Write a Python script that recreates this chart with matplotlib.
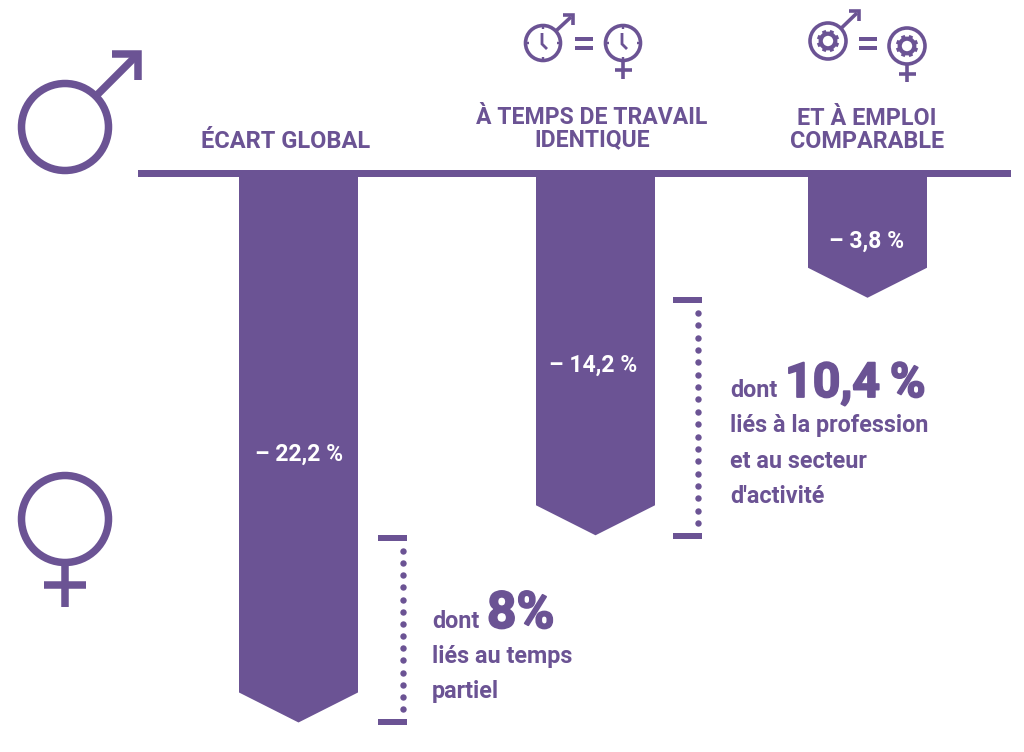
import matplotlib
matplotlib.use('Agg')
import matplotlib.pyplot as plt
import matplotlib.patheffects as pe
import numpy as np
from matplotlib.patches import Circle, Polygon, Rectangle

plt.rcParams['font.family'] = ['Roboto', 'DejaVu Sans']

PURPLE = '#6b5394'

# data
categories = ['ÉCART GLOBAL', 'À TEMPS DE TRAVAIL\nIDENTIQUE', 'ET À EMPLOI\nCOMPARABLE']
values = [22.2, 14.2, 3.8]
# depth of the rectangular part as read on the picture (the last bar is a bit over scale)
drawn_depth = [22.2, 14.2, 4.05]
value_labels = ['– 22,2 %', '– 14,2 %', '– 3,8 %']

bar_centers = [298.5, 595.5, 867.5]
bar_width = 119
tip = 30
px_per_pct = 23.4
zero_y = 173

fig = plt.figure(figsize=(10.24, 7.52), dpi=100)

# bars, y axis in percent
ax = fig.add_axes([0, 0, 1, 1])
ax.set_xlim(0, 1024)
ax.set_ylim((752 - zero_y) / px_per_pct, -zero_y / px_per_pct)
ax.axis('off')

for c, d in zip(bar_centers, drawn_depth):
    t = tip / px_per_pct
    ax.add_patch(Polygon([(c - bar_width / 2, 0), (c + bar_width / 2, 0), (c + bar_width / 2, d),
                          (c, d + t), (c - bar_width / 2, d)], closed=True, fc=PURPLE, ec='none'))

# everything else in pixel coords
dx = fig.add_axes([0, 0, 1, 1])
dx.set_xlim(0, 1024)
dx.set_ylim(752, 0)
dx.axis('off')
dx.patch.set_alpha(0)


def line(xs, ys, lw, cap='butt', join='miter'):
    dx.plot(xs, ys, color=PURPLE, lw=lw * 0.72, solid_capstyle=cap, solid_joinstyle=join)


def ring(x, y, r, lw):
    dx.add_patch(Circle((x, y), r, fc='none', ec=PURPLE, lw=lw * 0.72))


def male(x, y, r, lw, x1, y1, head):
    ring(x, y, r, lw)
    a = np.hypot(x1 - x, y1 - y)
    sx = x + (x1 - x) * r / a
    sy = y + (y1 - y) * r / a
    line([sx, x1 - 2], [sy, y1 + 2], lw)
    line([x1 - head, x1, x1], [y1, y1, y1 + head], lw)


def female(x, y, r, lw, stem, cross_y, cross_w):
    ring(x, y, r, lw)
    line([x, x], [y + r, y + r + stem], lw)
    line([x - cross_w / 2, x + cross_w / 2], [cross_y, cross_y], lw)


def clock(x, y, r):
    for a in np.arange(4) * np.pi / 2:
        line([x + (r - 3.5) * np.cos(a), x + r * np.cos(a)], [y + (r - 3.5) * np.sin(a), y + r * np.sin(a)], 2.4)
    line([x - 1, x - 1, x + 4], [y - 10, y + 1, y + 6], 2.8)


def gear(x, y):
    ring(x, y, 7.3, 4.2)
    for a in np.arange(8) * np.pi / 4 + np.pi / 8:
        line([x + 8 * np.cos(a), x + 11.2 * np.cos(a)], [y + 8 * np.sin(a), y + 11.2 * np.sin(a)], 4)


def equal(x0, x1):
    line([x0, x1], [38.5, 38.5], 4)
    line([x0, x1], [47.5, 47.5], 4)


# baseline
dx.add_patch(Rectangle((138, 170), 873, 7, fc=PURPLE, ec='none'))

# big symbols
male(65, 127, 43.5, 7.5, 138, 54, 26)
female(65, 519, 43.5, 7.5, 44, 585, 42)

# small icons
male(543, 43, 17.5, 3.6, 573, 15, 10)
clock(543, 43, 17.5)
equal(575, 593)
female(623, 43, 17.5, 3.6, 18, 70, 17)
clock(623, 43, 17.5)

male(828, 41, 18, 3.6, 859, 11, 10)
gear(828, 41)
equal(859, 877)
female(907, 46, 18, 3.6, 18, 74, 17)
gear(907, 46)

# column titles
title_y = [142, 129, 130]
title_size = [17, 16.6, 16.8]
for c, name, y, size in zip([285.5, 592, 867], categories, title_y, title_size):
    dx.text(c, y, name, color=PURPLE, fontsize=size, fontweight='bold', ha='center', va='center',
            linespacing=0.95)

# labels on the bars
label_y = [454, 365, 241]
for c, s, y in zip([299, 593, 867], value_labels, label_y):
    dx.text(c, y, s, color='white', fontsize=16.6, fontweight='bold', ha='center', va='center')


def bracket(x0, x1, y0, y1, n):
    dx.add_patch(Rectangle((x0, y0 - 3), x1 - x0, 6, fc=PURPLE, ec='none'))
    dx.add_patch(Rectangle((x0, y1 - 3), x1 - x0, 6, fc=PURPLE, ec='none'))
    ys = np.linspace(y0 + 13, y1 - 13, n)
    dx.plot([x1 - 4] * n, ys, 'o', color=PURPLE, ms=4.6, mew=0)


bracket(378, 407, 538, 722, 14)
bracket(673, 702, 300, 536, 18)


def body(x, y, s):
    dx.text(x, y, s, color=PURPLE, fontsize=16.8, fontweight='bold', ha='left', va='baseline')


def big(x, y, s, size=35.5):
    dx.text(x, y, s, color=PURPLE, fontsize=size, fontweight='bold', ha='left', va='baseline',
            path_effects=[pe.withStroke(linewidth=1.3, foreground=PURPLE)])


body(432, 628, 'dont')
big(487, 628, '8%', 37)
body(432, 663, 'liés au temps')
body(432, 698, 'partiel')

body(730, 397, 'dont')
big(785, 397, '10,4\u2009%', 34.8)
body(730, 432, 'liés à la profession')
body(730, 468, 'et au secteur')
body(730, 503, "d'activité")

fig.savefig('out.png', dpi=100, facecolor='white')
